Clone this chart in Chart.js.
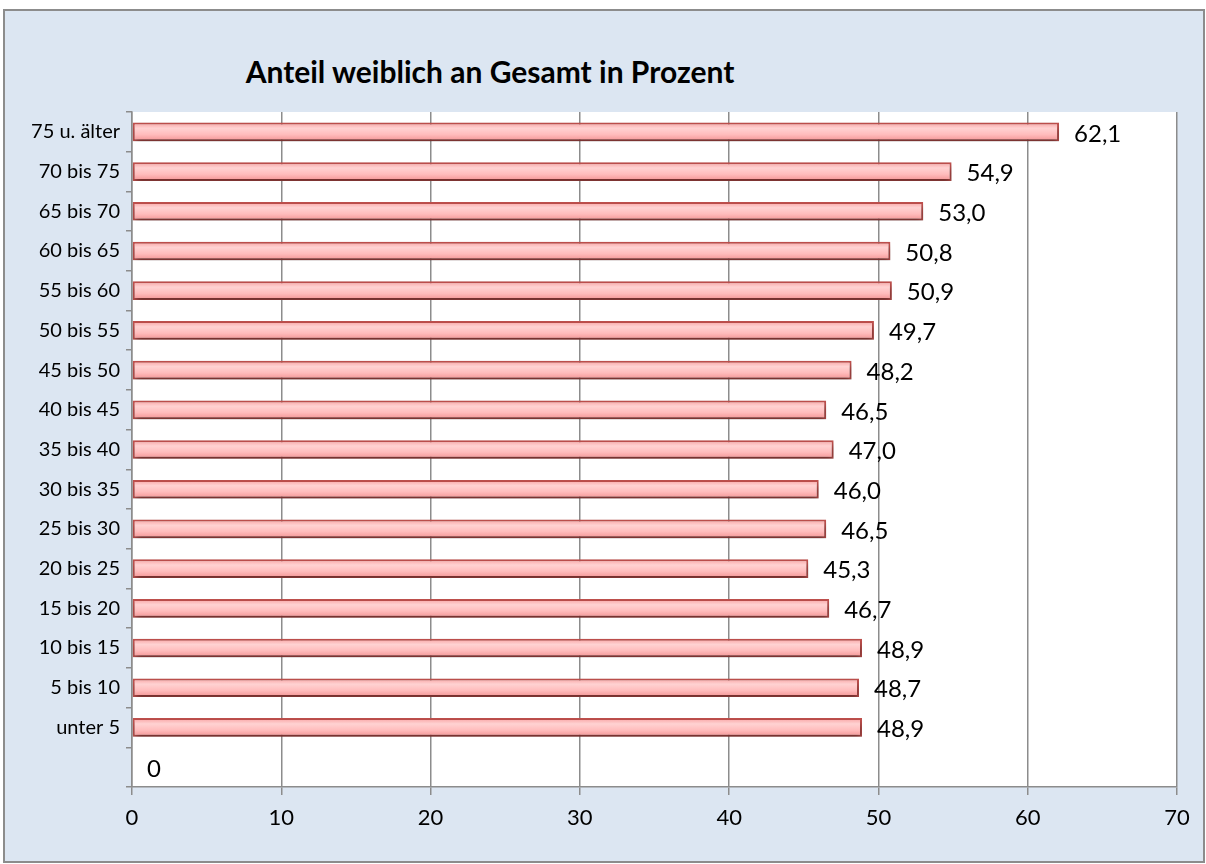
<!DOCTYPE html>
<html>
<head>
<meta charset="utf-8">
<script src="https://cdn.jsdelivr.net/npm/chart.js@4"></script>
<style>
  body { margin: 0; background: #fff; }
  #frame {
    position: absolute; left: 3px; top: 9px; width: 1202px; height: 854px;
    background: #dce6f2; border: 2px solid #8c8c8c; box-sizing: border-box;
  }
  #titel {
    position: absolute; left: 0; top: 42px; width: 970px; text-align: center;
    font: bold 30px Lato, "Open Sans", sans-serif; color: #000;
  }
  #wrap { position: absolute; left: 0; top: 0; width: 1200px; height: 852px; }
</style>
</head>
<body>
<div id="frame">
  <div id="titel">Anteil weiblich an Gesamt in Prozent</div>
  <div id="wrap"><canvas id="chart"></canvas></div>
</div>
<script>
// Altersgruppen (von oben nach unten)
const altersgruppen = ['75 u. älter', '70 bis 75', '65 bis 70', '60 bis 65', '55 bis 60', '50 bis 55',
    '45 bis 50', '40 bis 45', '35 bis 40', '30 bis 35', '25 bis 30', '20 bis 25', '15 bis 20',
    '10 bis 15', '5 bis 10', 'unter 5', ''];

// Anteil weiblich in Prozent
const anteilWeiblich = [62.1, 54.9, 53.0, 50.8, 50.9, 49.7, 48.2, 46.5, 47.0, 46.0, 46.5, 45.3, 46.7,
    48.9, 48.7, 48.9, 0];

// Achsenbeschriftung x
const xTicks = [0, 10, 20, 30, 40, 50, 60, 70];

const schrift = 'Lato, "Open Sans", sans-serif';

// Verlauf fuer jeden Balken
function balkenFarbe(c) {
    const chart = c.chart;
    if (!chart.chartArea) return '#ffc0c0';
    const y = chart.scales.y.getPixelForValue(c.dataIndex);
    const g = chart.ctx.createLinearGradient(0, y - 9, 0, y + 9);
    g.addColorStop(0, '#f8a4a4');
    g.addColorStop(0.3, '#ffd2d2');
    g.addColorStop(0.65, '#ffbcbc');
    g.addColorStop(1, '#f39494');
    return g;
}

// weisser Hintergrund der Zeichenflaeche
const flaechePlugin = {
    id: 'flaeche',
    beforeDraw(chart) {
        const a = chart.chartArea;
        chart.ctx.save();
        chart.ctx.fillStyle = '#ffffff';
        chart.ctx.fillRect(a.left, a.top, a.right - a.left, a.bottom - a.top);
        chart.ctx.restore();
    }
};

// Schatten unter den Balken
const schattenPlugin = {
    id: 'schatten',
    beforeDatasetsDraw(chart) {
        const ctx = chart.ctx;
        ctx.save();
        ctx.shadowColor = 'rgba(0,0,0,0.45)';
        ctx.shadowBlur = 6;
        ctx.shadowOffsetX = 1;
        ctx.shadowOffsetY = 4;
    },
    afterDatasetsDraw(chart) {
        chart.ctx.restore();
    }
};

// Werte rechts neben die Balken schreiben
const wertePlugin = {
    id: 'werte',
    afterDraw(chart) {
        const ctx = chart.ctx;
        const meta = chart.getDatasetMeta(0);
        ctx.save();
        ctx.font = '24px ' + schrift;
        ctx.fillStyle = '#000';
        ctx.textBaseline = 'middle';
        ctx.textAlign = 'left';
        meta.data.forEach(function (bar, i) {
            const v = anteilWeiblich[i];
            const text = v === 0 ? '0' : v.toFixed(1).replace('.', ',');
            ctx.fillText(text, bar.x + 15, bar.y + 2);
        });
        ctx.restore();
    }
};

const ctx = document.getElementById('chart').getContext('2d');
new Chart(ctx, {
    type: 'bar',
    data: {
        labels: altersgruppen,
        datasets: [{
            data: anteilWeiblich,
            backgroundColor: balkenFarbe,
            borderColor: '#c0504d',
            borderWidth: 2,
            borderSkipped: false,
            barPercentage: 0.47,
            categoryPercentage: 1.0
        }]
    },
    options: {
        indexAxis: 'y',
        responsive: true,
        maintainAspectRatio: false,
        animation: false,
        layout: { padding: { top: 101, right: 28, left: 0, bottom: 0 } },
        plugins: {
            legend: { display: false },
            tooltip: { enabled: false }
        },
        scales: {
            x: {
                min: 0,
                max: 70,
                afterBuildTicks: function (s) { s.ticks = xTicks.map(v => ({ value: v })); },
                afterFit: function (s) { s.height = 76; },
                grid: { color: '#8c8c8c', lineWidth: 1.5, tickLength: 8 },
                border: { color: '#8c8c8c', width: 1.5 },
                ticks: { color: '#000', font: { size: 22, family: schrift }, padding: 10 }
            },
            y: {
                afterFit: function (s) { s.width = 127; },
                grid: { drawOnChartArea: false, color: '#8c8c8c', lineWidth: 1.5, tickLength: 6 },
                border: { color: '#8c8c8c', width: 1.5 },
                ticks: { color: '#000', font: { size: 20, family: schrift }, padding: 6 }
            }
        }
    },
    plugins: [flaechePlugin, schattenPlugin, wertePlugin]
});
</script>
</body>
</html>
